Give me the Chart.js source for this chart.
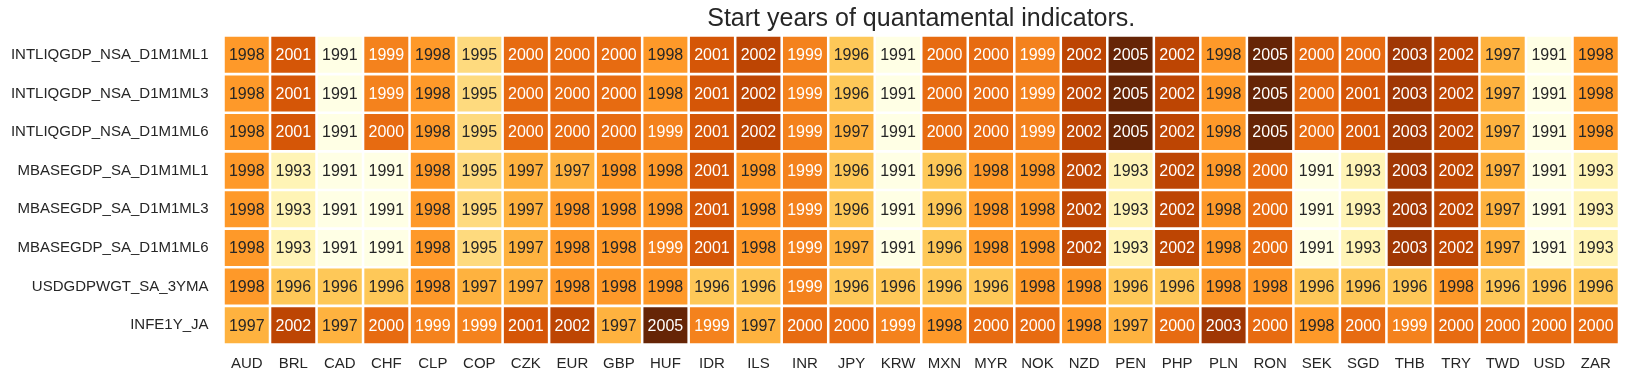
<!DOCTYPE html>
<html>
<head>
<meta charset="utf-8">
<script src="https://cdn.jsdelivr.net/npm/chart.js@4/dist/chart.umd.min.js"></script>
<style>
  body { margin: 0; background: #fff; }
  canvas { display: block; }
</style>
</head>
<body>
<canvas id="heatmap" width="1628" height="381"></canvas>
<script>
const currencies = ['AUD', 'BRL', 'CAD', 'CHF', 'CLP', 'COP', 'CZK', 'EUR', 'GBP', 'HUF', 'IDR', 'ILS', 'INR', 'JPY', 'KRW',
  'MXN', 'MYR', 'NOK', 'NZD', 'PEN', 'PHP', 'PLN', 'RON', 'SEK', 'SGD', 'THB', 'TRY', 'TWD', 'USD', 'ZAR'];

const indicators = ['INTLIQGDP_NSA_D1M1ML1', 'INTLIQGDP_NSA_D1M1ML3', 'INTLIQGDP_NSA_D1M1ML6', 'MBASEGDP_SA_D1M1ML1',
  'MBASEGDP_SA_D1M1ML3', 'MBASEGDP_SA_D1M1ML6', 'USDGDPWGT_SA_3YMA', 'INFE1Y_JA'];

// start year per currency, one array per indicator
const intliqMl1 = [1998, 2001, 1991, 1999, 1998, 1995, 2000, 2000, 2000, 1998, 2001, 2002, 1999, 1996, 1991, 2000, 2000, 1999, 2002, 2005, 2002, 1998, 2005, 2000, 2000, 2003, 2002, 1997, 1991, 1998];
const intliqMl3 = [1998, 2001, 1991, 1999, 1998, 1995, 2000, 2000, 2000, 1998, 2001, 2002, 1999, 1996, 1991, 2000, 2000, 1999, 2002, 2005, 2002, 1998, 2005, 2000, 2001, 2003, 2002, 1997, 1991, 1998];
const intliqMl6 = [1998, 2001, 1991, 2000, 1998, 1995, 2000, 2000, 2000, 1999, 2001, 2002, 1999, 1997, 1991, 2000, 2000, 1999, 2002, 2005, 2002, 1998, 2005, 2000, 2001, 2003, 2002, 1997, 1991, 1998];
const mbaseMl1 = [1998, 1993, 1991, 1991, 1998, 1995, 1997, 1997, 1998, 1998, 2001, 1998, 1999, 1996, 1991, 1996, 1998, 1998, 2002, 1993, 2002, 1998, 2000, 1991, 1993, 2003, 2002, 1997, 1991, 1993];
const mbaseMl3 = [1998, 1993, 1991, 1991, 1998, 1995, 1997, 1998, 1998, 1998, 2001, 1998, 1999, 1996, 1991, 1996, 1998, 1998, 2002, 1993, 2002, 1998, 2000, 1991, 1993, 2003, 2002, 1997, 1991, 1993];
const mbaseMl6 = [1998, 1993, 1991, 1991, 1998, 1995, 1997, 1998, 1998, 1999, 2001, 1998, 1999, 1997, 1991, 1996, 1998, 1998, 2002, 1993, 2002, 1998, 2000, 1991, 1993, 2003, 2002, 1997, 1991, 1993];
const usdgdpwgt = [1998, 1996, 1996, 1996, 1998, 1997, 1997, 1998, 1998, 1998, 1996, 1996, 1999, 1996, 1996, 1996, 1996, 1998, 1998, 1996, 1996, 1998, 1998, 1996, 1996, 1996, 1998, 1996, 1996, 1996];
const infe1y = [1997, 2002, 1997, 2000, 1999, 1999, 2001, 2002, 1997, 2005, 1999, 1997, 2000, 2000, 1999, 1998, 2000, 2000, 1998, 1997, 2000, 2003, 2000, 1998, 2000, 1999, 2000, 2000, 2000, 2000];

const rows = [intliqMl1, intliqMl3, intliqMl6, mbaseMl1, mbaseMl3, mbaseMl6, usdgdpwgt, infe1y];

// YlOrBr colormap, vmin/vmax from the data
const ylorbr = [[255, 255, 229], [255, 247, 188], [254, 227, 145], [254, 196, 79], [254, 153, 41],
  [236, 112, 20], [204, 76, 2], [153, 52, 4], [102, 37, 6]];
const vmin = Math.min(...rows.flat());
const vmax = Math.max(...rows.flat());

function cmap(v) {
  const t = (v - vmin) / (vmax - vmin) * (ylorbr.length - 1);
  const i = Math.min(Math.floor(t), ylorbr.length - 2);
  const f = t - i;
  return ylorbr[i].map((c, k) => Math.round(c + (ylorbr[i + 1][k] - c) * f));
}

function textColor(rgb) {
  const lin = rgb.map(c => {
    c = c / 255;
    return c <= 0.03928 ? c / 12.92 : Math.pow((c + 0.055) / 1.055, 2.4);
  });
  const lum = 0.2126 * lin[0] + 0.7152 * lin[1] + 0.0722 * lin[2];
  return lum > 0.408 ? '#262626' : '#ffffff';
}

// one dataset per currency column, each cell is a stacked bar of width 1
const datasets = currencies.map((cur, j) => ({
  label: cur,
  data: indicators.map(() => 1),
  years: rows.map(r => r[j]),
  backgroundColor: rows.map(r => 'rgb(' + cmap(r[j]).join(',') + ')'),
  borderColor: '#ffffff',
  borderWidth: 1.6,
  borderSkipped: false,
  categoryPercentage: 1,
  barPercentage: 1
}));

const cellLabels = {
  id: 'cellLabels',
  afterDatasetsDraw(chart) {
    const ctx = chart.ctx;
    ctx.save();
    ctx.font = '16px "Liberation Sans", Arial, sans-serif';
    ctx.textAlign = 'center';
    ctx.textBaseline = 'middle';
    chart.data.datasets.forEach((ds, j) => {
      chart.getDatasetMeta(j).data.forEach((bar, i) => {
        const p = bar.getCenterPoint();
        ctx.fillStyle = textColor(cmap(ds.years[i]));
        ctx.fillText(String(ds.years[i]), p.x, p.y + 1);
      });
    });
    ctx.restore();
  }
};

Chart.defaults.font.family = '"Liberation Sans", Arial, sans-serif';
Chart.defaults.color = '#262626';

new Chart(document.getElementById('heatmap'), {
  type: 'bar',
  data: { labels: indicators, datasets: datasets },
  options: {
    indexAxis: 'y',
    responsive: false,
    animation: false,
    layout: { padding: { left: 0, right: 9, top: 0, bottom: 0 } },
    scales: {
      x: {
        stacked: true,
        min: 0,
        max: currencies.length,
        grid: { display: false, drawTicks: false },
        border: { display: false },
        afterBuildTicks: (axis) => {
          axis.ticks = currencies.map((c, i) => ({ value: i + 0.5 }));
        },
        afterFit: (axis) => { axis.height = 36.5; },
        ticks: {
          autoSkip: false,
          maxRotation: 0,
          padding: 10,
          font: { size: 15 },
          callback: (v, i) => currencies[i]
        }
      },
      y: {
        stacked: true,
        grid: { display: false, drawTicks: false },
        border: { display: false },
        afterFit: (axis) => { axis.width = 223.5; },
        ticks: { padding: 15, font: { size: 15 } }
      }
    },
    plugins: {
      legend: { display: false },
      tooltip: { enabled: false },
      title: {
        display: true,
        fullSize: false,
        text: 'Start years of quantamental indicators.',
        color: '#262626',
        font: { size: 25, weight: 'normal' },
        padding: { top: 4, bottom: 1.5 }
      }
    }
  },
  plugins: [cellLabels]
});
</script>
</body>
</html>
